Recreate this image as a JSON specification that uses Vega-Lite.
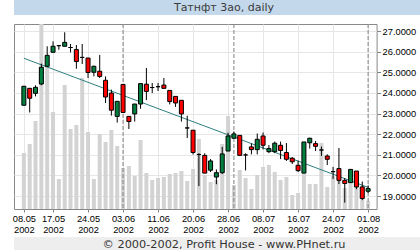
{
  "$schema": "https://vega.github.io/schema/vega-lite/v6.json",
  "background": "white",
  "padding": 0,
  "spacing": 0,
  "config": {
    "view": {"stroke": null},
    "axis": {"labelFont": "Liberation Sans", "labelFontSize": 9.3, "labelColor": "#000000"}
  },
  "datasets": {
    "candles": [
      {"i": 0, "d": "08.05.2002", "o": 23.40, "h": 24.34, "l": 23.40, "c": 24.32, "v": 56},
      {"i": 1, "d": "13.05.2002", "o": 24.22, "h": 24.24, "l": 23.05, "c": 23.74, "v": 65},
      {"i": 2, "d": "14.05.2002", "o": 23.98, "h": 24.37, "l": 23.83, "c": 24.27, "v": 88},
      {"i": 3, "d": "15.05.2002", "o": 24.43, "h": 25.42, "l": 24.37, "c": 25.24, "v": 185},
      {"i": 4, "d": "16.05.2002", "o": 25.29, "h": 26.26, "l": 25.25, "c": 25.82, "v": 148},
      {"i": 5, "d": "17.05.2002", "o": 25.97, "h": 26.50, "l": 25.97, "c": 26.26, "v": 97},
      {"i": 6, "d": "18.05.2002", "o": 26.29, "h": 26.32, "l": 26.09, "c": 26.29, "v": 30},
      {"i": 7, "d": "20.05.2002", "o": 26.26, "h": 26.94, "l": 26.26, "c": 26.45, "v": 124},
      {"i": 8, "d": "21.05.2002", "o": 26.20, "h": 26.37, "l": 25.96, "c": 26.20, "v": 80},
      {"i": 9, "d": "22.05.2002", "o": 26.10, "h": 26.32, "l": 25.17, "c": 25.52, "v": 84},
      {"i": 10, "d": "23.05.2002", "o": 25.72, "h": 26.37, "l": 25.40, "c": 25.72, "v": 131},
      {"i": 11, "d": "24.05.2002", "o": 25.69, "h": 25.69, "l": 24.72, "c": 24.99, "v": 77},
      {"i": 12, "d": "27.05.2002", "o": 25.00, "h": 25.32, "l": 24.80, "c": 25.29, "v": 30},
      {"i": 13, "d": "28.05.2002", "o": 25.05, "h": 25.84, "l": 24.72, "c": 24.80, "v": 75},
      {"i": 14, "d": "29.05.2002", "o": 24.61, "h": 24.80, "l": 23.51, "c": 23.80, "v": 67},
      {"i": 15, "d": "30.05.2002", "o": 23.99, "h": 24.16, "l": 22.90, "c": 23.16, "v": 79},
      {"i": 16, "d": "31.05.2002", "o": 22.86, "h": 23.59, "l": 22.56, "c": 23.59, "v": 63},
      {"i": 17, "d": "03.06.2002", "o": 24.41, "h": 24.41, "l": 23.05, "c": 23.05, "v": 41},
      {"i": 18, "d": "04.06.2002", "o": 22.86, "h": 22.86, "l": 22.25, "c": 22.61, "v": 43},
      {"i": 19, "d": "05.06.2002", "o": 22.98, "h": 23.46, "l": 22.61, "c": 23.46, "v": 33},
      {"i": 20, "d": "06.06.2002", "o": 23.46, "h": 24.45, "l": 23.23, "c": 24.45, "v": 69},
      {"i": 21, "d": "07.06.2002", "o": 24.42, "h": 25.21, "l": 23.65, "c": 24.07, "v": 36},
      {"i": 22, "d": "10.06.2002", "o": 24.26, "h": 24.48, "l": 23.99, "c": 24.26, "v": 29},
      {"i": 23, "d": "11.06.2002", "o": 24.30, "h": 24.48, "l": 24.09, "c": 24.30, "v": 31},
      {"i": 24, "d": "13.06.2002", "o": 24.38, "h": 24.72, "l": 24.22, "c": 24.22, "v": 32},
      {"i": 25, "d": "14.06.2002", "o": 24.12, "h": 24.12, "l": 23.44, "c": 23.58, "v": 35},
      {"i": 26, "d": "17.06.2002", "o": 23.83, "h": 23.83, "l": 23.32, "c": 23.51, "v": 36},
      {"i": 27, "d": "18.06.2002", "o": 23.64, "h": 23.64, "l": 22.61, "c": 22.98, "v": 38},
      {"i": 28, "d": "19.06.2002", "o": 22.30, "h": 22.89, "l": 21.81, "c": 22.30, "v": 28},
      {"i": 29, "d": "20.06.2002", "o": 22.19, "h": 22.19, "l": 21.01, "c": 21.11, "v": 40},
      {"i": 30, "d": "21.06.2002", "o": 21.01, "h": 21.08, "l": 19.48, "c": 21.01, "v": 70},
      {"i": 31, "d": "24.06.2002", "o": 20.97, "h": 21.07, "l": 20.11, "c": 20.11, "v": 34},
      {"i": 32, "d": "25.06.2002", "o": 20.25, "h": 20.79, "l": 20.16, "c": 20.70, "v": 27},
      {"i": 33, "d": "26.06.2002", "o": 19.92, "h": 20.29, "l": 19.57, "c": 20.13, "v": 29},
      {"i": 34, "d": "27.06.2002", "o": 20.13, "h": 21.38, "l": 20.07, "c": 21.04, "v": 65},
      {"i": 35, "d": "28.06.2002", "o": 21.18, "h": 22.07, "l": 21.18, "c": 21.91, "v": 93},
      {"i": 36, "d": "01.07.2002", "o": 21.80, "h": 22.13, "l": 21.80, "c": 22.01, "v": 24},
      {"i": 37, "d": "02.07.2002", "o": 21.94, "h": 21.94, "l": 20.97, "c": 20.97, "v": 39},
      {"i": 38, "d": "03.07.2002", "o": 20.99, "h": 21.07, "l": 20.24, "c": 20.99, "v": 31},
      {"i": 39, "d": "04.07.2002", "o": 21.38, "h": 21.55, "l": 21.02, "c": 21.25, "v": 20},
      {"i": 40, "d": "05.07.2002", "o": 21.25, "h": 22.03, "l": 21.02, "c": 21.75, "v": 34},
      {"i": 41, "d": "08.07.2002", "o": 21.91, "h": 22.08, "l": 21.26, "c": 21.46, "v": 42},
      {"i": 42, "d": "09.07.2002", "o": 21.15, "h": 21.47, "l": 21.08, "c": 21.30, "v": 44},
      {"i": 43, "d": "10.07.2002", "o": 21.15, "h": 21.64, "l": 21.08, "c": 21.56, "v": 37},
      {"i": 44, "d": "11.07.2002", "o": 21.46, "h": 21.64, "l": 20.79, "c": 21.21, "v": 29},
      {"i": 45, "d": "12.07.2002", "o": 21.11, "h": 21.57, "l": 20.70, "c": 20.78, "v": 32},
      {"i": 46, "d": "15.07.2002", "o": 20.83, "h": 20.89, "l": 20.55, "c": 20.66, "v": 14},
      {"i": 47, "d": "16.07.2002", "o": 20.49, "h": 20.72, "l": 20.16, "c": 20.23, "v": 16},
      {"i": 48, "d": "17.07.2002", "o": 20.11, "h": 21.62, "l": 20.11, "c": 21.62, "v": 35},
      {"i": 49, "d": "18.07.2002", "o": 21.58, "h": 21.83, "l": 21.30, "c": 21.80, "v": 25},
      {"i": 50, "d": "19.07.2002", "o": 21.54, "h": 21.67, "l": 21.18, "c": 21.41, "v": 25},
      {"i": 51, "d": "22.07.2002", "o": 21.23, "h": 21.40, "l": 20.94, "c": 21.23, "v": 66},
      {"i": 52, "d": "23.07.2002", "o": 20.94, "h": 21.02, "l": 20.50, "c": 20.78, "v": 22},
      {"i": 53, "d": "24.07.2002", "o": 20.18, "h": 20.41, "l": 19.82, "c": 20.18, "v": 33},
      {"i": 54, "d": "25.07.2002", "o": 20.33, "h": 21.33, "l": 19.58, "c": 19.76, "v": 30},
      {"i": 55, "d": "26.07.2002", "o": 19.76, "h": 19.87, "l": 18.68, "c": 19.61, "v": 21},
      {"i": 56, "d": "29.07.2002", "o": 19.65, "h": 20.30, "l": 19.64, "c": 20.29, "v": 27},
      {"i": 57, "d": "30.07.2002", "o": 20.21, "h": 20.21, "l": 19.33, "c": 19.44, "v": 32},
      {"i": 58, "d": "31.07.2002", "o": 19.44, "h": 19.70, "l": 18.80, "c": 18.88, "v": 23},
      {"i": 59, "d": "01.08.2002", "o": 19.23, "h": 19.51, "l": 19.15, "c": 19.36, "v": 8}
    ],
    "seps": [{"i": 17}, {"i": 36}, {"i": 59}],
    "trend": [{"i": 0, "p": 25.68}, {"i": 59, "p": 19.42}]
  },
  "vconcat": [
    {
      "width": 420,
      "height": 15,
      "view": {"fill": "#C4D8EB", "stroke": null},
      "data": {"values": [{"t": "Татнфт 3ао, daily"}]},
      "mark": {"type": "text", "font": "DejaVu Sans", "fontSize": 11, "color": "#3A3A3A"},
      "encoding": {"text": {"field": "t"}}
    },
    {
      "width": 362.6,
      "height": 185,
      "view": {"stroke": "#888888", "fill": "white"},
      "layer": [
        {
          "data": {"name": "candles"},
          "mark": {"type": "bar", "width": 4, "color": "#D3D3D3", "clip": true},
          "encoding": {
            "x": {"field": "i", "type": "quantitative", "scale": {"domain": [-0.833, 59.6], "nice": false, "zero": false},
              "axis": {"orient": "top", "labels": false, "ticks": false, "domain": false, "grid": false, "title": null, "minExtent": 8, "maxExtent": 8}},
            "y": {"field": "v", "type": "quantitative", "scale": {"domain": [0, 185], "nice": false},
              "axis": {"orient": "left", "labels": false, "ticks": false, "domain": false, "grid": false, "title": null, "minExtent": 13, "maxExtent": 13}}
          }
        },
        {
          "data": {"name": "candles"},
          "mark": {"type": "rule", "color": "#000000", "strokeWidth": 1, "opacity": 0},
          "encoding": {
            "x": {"field": "i", "type": "quantitative", "scale": {"domain": [-0.833, 59.6], "nice": false, "zero": false},
              "axis": {"orient": "bottom", "values": [0, 5, 11, 17, 23, 29, 35, 41, 47, 53, 59],
                "labelExpr": "[['08.05','17.05','24.05','03.06','11.06','20.06','28.06','08.07','16.07','24.07','01.08'][indexof([0,5,11,17,23,29,35,41,47,53,59], datum.value)], '2002']",
                "grid": true, "gridColor": "#E6E6E6", "domain": false, "tickSize": 3, "tickColor": "#808080",
                "labelPadding": 2, "labelLineHeight": 11.3, "labelOverlap": false, "labelFlush": false,
                "title": null, "minExtent": 27, "maxExtent": 27}},
            "y": {"field": "l", "type": "quantitative", "scale": {"domain": [18.37, 27.34], "nice": false, "zero": false},
              "axis": {"orient": "right", "values": [19, 20, 21, 22, 23, 24, 25, 26, 27], "format": ".4f",
                "grid": true, "gridColor": "#E6E6E6", "domain": false, "tickSize": 4, "tickColor": "#808080",
                "labelPadding": 1.5, "title": null}},
            "y2": {"field": "h"}
          }
        },
        {
          "data": {"name": "seps"},
          "mark": {"type": "rule", "color": "#808080", "strokeDash": [4, 2], "strokeWidth": 1},
          "encoding": {
            "x": {"field": "i", "type": "quantitative", "scale": {"domain": [-0.833, 59.6], "nice": false, "zero": false}, "axis": null}
          }
        },
        {
          "data": {"name": "trend"},
          "mark": {"type": "line", "color": "#2E8080", "strokeWidth": 1},
          "encoding": {
            "x": {"field": "i", "type": "quantitative", "scale": {"domain": [-0.833, 59.6], "nice": false, "zero": false}, "axis": null},
            "y": {"field": "p", "type": "quantitative", "scale": {"domain": [18.37, 27.34], "nice": false, "zero": false}, "axis": null}
          }
        },
        {
          "data": {"name": "candles"},
          "mark": {"type": "rule", "color": "#000000", "strokeWidth": 1},
          "encoding": {
            "x": {"field": "i", "type": "quantitative", "scale": {"domain": [-0.833, 59.6], "nice": false, "zero": false}, "axis": null},
            "y": {"field": "l", "type": "quantitative", "scale": {"domain": [18.37, 27.34], "nice": false, "zero": false}, "axis": null},
            "y2": {"field": "h"}
          }
        },
        {
          "data": {"name": "candles"},
          "mark": {"type": "bar", "width": 4, "stroke": "#000000", "strokeWidth": 1},
          "encoding": {
            "x": {"field": "i", "type": "quantitative", "scale": {"domain": [-0.833, 59.6], "nice": false, "zero": false}, "axis": null},
            "y": {"field": "o", "type": "quantitative", "scale": {"domain": [18.37, 27.34], "nice": false, "zero": false}, "axis": null},
            "y2": {"field": "c"},
            "color": {"condition": {"test": "datum.c < datum.o", "value": "#FF0000"}, "value": "#007F3F"}
          }
        }
      ],
      "resolve": {"scale": {"y": "independent"}, "axis": {"x": "independent", "y": "independent"}}
    },
    {
      "width": 420,
      "height": 15,
      "view": {"fill": "#EEEEEE", "stroke": null},
      "data": {"values": [{"t": "© 2000-2002, Profit House - www.PHnet.ru"}]},
      "mark": {"type": "text", "font": "DejaVu Sans", "fontSize": 11.3, "color": "#333333"},
      "encoding": {"text": {"field": "t"}}
    }
  ]
}
